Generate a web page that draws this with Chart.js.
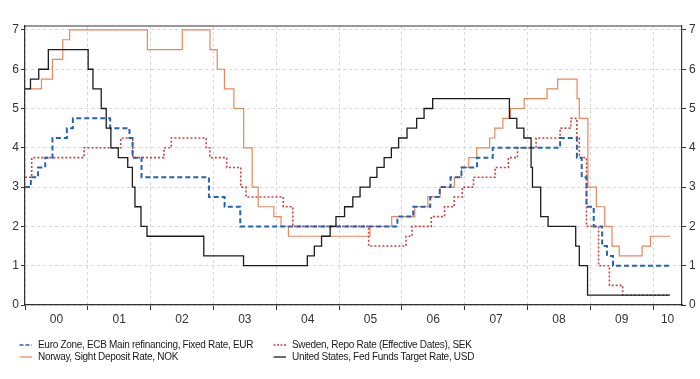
<!DOCTYPE html>
<html><head><meta charset="utf-8">
<script src="https://cdn.jsdelivr.net/npm/chart.js@4.4.1/dist/chart.umd.min.js"></script>
<style>
html,body{margin:0;padding:0;background:#fff;}
#wrap{position:relative;width:700px;height:379px;}
#legend{position:absolute;left:0;top:0;width:700px;height:379px;pointer-events:none;font-family:"Liberation Sans",Arial,sans-serif;font-size:10px;letter-spacing:-0.3px;color:#1a1a1a;}
.item{position:absolute;height:12px;line-height:12px;white-space:nowrap;}
.item svg{position:absolute;left:0;top:0;}
.item span{position:absolute;top:0;}
</style></head><body>
<div id="wrap"><canvas id="c" width="700" height="379"></canvas><div id="legend"></div></div>
<script>
// ---- data (change dates and policy rates, %) ----
const eurDates = ['2000-01-01','2000-02-04','2000-03-17','2000-04-28','2000-06-09','2000-09-01','2000-10-06','2001-05-11','2001-08-31','2001-09-18','2001-11-09','2002-12-06','2003-03-07','2003-06-06','2005-12-06','2006-03-08','2006-06-15','2006-08-09','2006-10-11','2006-12-13','2007-03-14','2007-06-13','2008-07-09','2008-10-15','2008-11-12','2008-12-10','2009-01-21','2009-03-11','2009-04-08','2009-05-13','2010-04-09'];
const eurRates = [3.00,3.25,3.50,3.75,4.25,4.50,4.75,4.50,4.25,3.75,3.25,2.75,2.50,2.00,2.25,2.50,2.75,3.00,3.25,3.50,3.75,4.00,4.25,3.75,3.25,2.50,2.00,1.50,1.25,1.00,1.00];

const sekDates = ['2000-01-01','2000-02-09','2000-12-10','2001-07-11','2001-09-19','2002-03-20','2002-05-01','2002-11-20','2002-12-11','2003-03-19','2003-06-09','2003-07-09','2004-02-11','2004-04-07','2005-06-22','2006-01-25','2006-03-01','2006-06-21','2006-09-06','2006-11-01','2006-12-18','2007-02-21','2007-06-27','2007-09-12','2007-11-04','2008-02-20','2008-07-09','2008-09-10','2008-10-15','2008-10-29','2008-12-10','2009-02-18','2009-04-22','2009-07-08','2010-04-09'];
const sekRates = [3.25,3.75,4.00,4.25,3.75,4.00,4.25,4.00,3.75,3.50,3.00,2.75,2.50,2.00,1.50,1.75,2.00,2.25,2.50,2.75,3.00,3.25,3.50,3.75,4.00,4.25,4.50,4.75,4.25,3.75,2.00,1.00,0.50,0.25,0.25];

const nokDates = ['2000-01-01','2000-04-06','2000-06-09','2000-08-08','2000-09-17','2001-12-13','2002-07-04','2002-12-12','2003-01-23','2003-03-06','2003-04-30','2003-06-26','2003-08-14','2003-09-18','2003-12-18','2004-01-29','2004-03-12','2005-06-30','2005-11-03','2006-03-17','2006-06-01','2006-08-11','2006-11-02','2006-12-14','2007-01-25','2007-03-12','2007-05-26','2007-06-25','2007-08-11','2007-09-24','2007-12-13','2008-04-24','2008-06-25','2008-10-16','2008-10-29','2008-12-18','2009-02-05','2009-03-26','2009-05-07','2009-06-18','2009-10-29','2009-12-17','2010-04-09'];
const nokRates = [5.50,5.75,6.25,6.75,7.00,6.50,7.00,6.50,6.00,5.50,5.00,4.00,3.00,2.50,2.25,2.00,1.75,2.00,2.25,2.50,2.75,3.00,3.25,3.50,3.75,4.00,4.25,4.50,4.75,5.00,5.25,5.50,5.75,5.25,4.75,3.00,2.50,2.00,1.50,1.25,1.50,1.75,1.75];

const usdDates = ['2000-01-01','2000-02-02','2000-03-21','2000-05-16','2001-01-03','2001-01-31','2001-03-20','2001-04-18','2001-05-15','2001-06-27','2001-08-21','2001-09-17','2001-10-02','2001-11-06','2001-12-11','2002-11-06','2003-06-25','2004-06-30','2004-08-10','2004-09-21','2004-11-10','2004-12-14','2005-02-02','2005-03-22','2005-05-03','2005-06-30','2005-08-09','2005-09-20','2005-11-01','2005-12-13','2006-01-31','2006-03-28','2006-05-10','2006-06-29','2007-09-18','2007-10-31','2007-12-11','2008-01-22','2008-01-30','2008-03-18','2008-04-30','2008-10-08','2008-10-29','2008-12-16','2010-04-09'];
const usdRates = [5.50,5.75,6.00,6.50,6.00,5.50,5.00,4.50,4.00,3.75,3.50,3.00,2.50,2.00,1.75,1.25,1.00,1.25,1.50,1.75,2.00,2.25,2.50,2.75,3.00,3.25,3.50,3.75,4.00,4.25,4.50,4.75,5.00,5.25,4.75,4.50,4.25,3.50,3.00,2.25,2.00,1.50,1.00,0.25,0.25];

const seriesNames = ['Euro Zone, ECB Main refinancing, Fixed Rate, EUR','Sweden, Repo Rate (Effective Dates), SEK','Norway, Sight Deposit Rate, NOK','United States, Fed Funds Target Rate, USD'];
const yearTicks = [2000,2001,2002,2003,2004,2005,2006,2007,2008,2009,2010];
const yearLabelPos = [2000.5,2001.5,2002.5,2003.5,2004.5,2005.5,2006.5,2007.5,2008.5,2009.5,2010.23];
const yearLabels = ['00','01','02','03','04','05','06','07','08','09','10'];
const yTicks = [0,1,2,3,4,5,6,7];
const xMin = 2000, xMax = 2010.46, yMin = 0, yMax = 7.1;

function toYear(s){
  const p = s.split('-').map(Number);
  const a = Date.UTC(p[0],0,1), b = Date.UTC(p[0]+1,0,1);
  return p[0] + (Date.UTC(p[0],p[1]-1,p[2]) - a)/(b - a);
}
function pts(d, v){ return d.map((s,i)=>({x: toYear(s), y: v[i]})); }

const colors = {eur:'#2563b4', sek:'#d2403f', nok:'#e8875c', usd:'#1c1c1c'};
const AX = '#333333', GRID = '#d6d6d6';

const labelMap = new Map(yearLabelPos.map((p,i)=>[p, yearLabels[i]]));
const isYear = v => yearTicks.includes(v);

const framePlugin = {
  id:'frame',
  afterDraw(chart){
    const {ctx, chartArea:a} = chart;
    ctx.save();
    ctx.strokeStyle = AX; ctx.lineWidth = 1.2;
    ctx.beginPath(); ctx.moveTo(a.left, a.top); ctx.lineTo(a.right, a.top); ctx.stroke();
    ctx.restore();
  }
};

const chart = new Chart(document.getElementById('c'), {
  type:'line',
  data:{ datasets:[
    {label:seriesNames[0], data:pts(eurDates,eurRates), borderColor:colors.eur, borderWidth:2, borderDash:[5,3], order:1},
    {label:seriesNames[1], data:pts(sekDates,sekRates), borderColor:colors.sek, borderWidth:1.6, borderDash:[2,2], order:2},
    {label:seriesNames[2], data:pts(nokDates,nokRates), borderColor:colors.nok, borderWidth:1.2, order:3},
    {label:seriesNames[3], data:pts(usdDates,usdRates), borderColor:colors.usd, borderWidth:1.3, order:0}
  ].map(d=>Object.assign({stepped:true, pointRadius:0, fill:false, tension:0, yAxisID:'y'}, d)) },
  options:{
    responsive:false, animation:false, events:[],
    layout:{padding:{top:26,left:0,right:0,bottom:48}},
    plugins:{legend:{display:false}, tooltip:{enabled:false}},
    scales:{
      x:{type:'linear', position:'bottom', min:xMin, max:xMax,
        afterBuildTicks: s => { s.ticks = yearTicks.concat(yearLabelPos).sort((a,b)=>a-b).map(v=>({value:v})); },
        afterFit: s => { s.height = 26; },
        grid:{ color: c => isYear(c.tick.value) ? GRID : 'rgba(0,0,0,0)', tickColor: c => isYear(c.tick.value) ? AX : 'rgba(0,0,0,0)', tickLength:5, lineWidth:1 },
        border:{display:true, color:AX, width:1.2, dash:[3,3]},
        ticks:{autoSkip:false, maxRotation:0, padding:2, color:'#333', font:{family:'"Liberation Sans", Arial, sans-serif', size:12},
          callback: v => labelMap.has(v) ? labelMap.get(v) : ''}
      },
      y:{type:'linear', position:'left', min:yMin, max:yMax,
        afterBuildTicks: s => { s.ticks = yTicks.map(v=>({value:v})); },
        afterFit: s => { s.width = 25; },
        grid:{color:GRID, tickColor:AX, tickLength:4, lineWidth:1},
        border:{display:true, color:AX, width:1.2, dash:[3,3]},
        ticks:{padding:2, color:'#333', font:{family:'"Liberation Sans", Arial, sans-serif', size:12}}
      },
      y2:{type:'linear', position:'right', display:true, min:yMin, max:yMax,
        afterBuildTicks: s => { s.ticks = yTicks.map(v=>({value:v})); },
        afterFit: s => { s.width = 18; },
        grid:{drawOnChartArea:false, tickColor:AX, tickLength:4},
        border:{display:true, color:AX, width:1.2},
        ticks:{padding:3, color:'#333', font:{family:'"Liberation Sans", Arial, sans-serif', size:12}}
      }
    }
  },
  plugins:[framePlugin]
});

// ---- HTML legend built from the chart datasets ----
const legendPos = [[19,339],[273,339],[19,351],[273,351]];
const legendEl = document.getElementById('legend');
chart.data.datasets.forEach((ds,i)=>{
  const [lx,ly] = legendPos[i];
  const it = document.createElement('div');
  it.className = 'item';
  it.style.left = lx+'px'; it.style.top = ly+'px';
  const dash = ds.borderDash ? ds.borderDash.join(',') : 'none';
  it.innerHTML = '<svg width="14" height="12"><line x1="0.5" y1="6" x2="13" y2="6" stroke="'+ds.borderColor+'" stroke-width="'+Math.min(ds.borderWidth,1.6)+'" stroke-dasharray="'+(ds.borderDash? (i===0?'4,2':'2,1.5') : 'none')+'"/></svg><span style="left:19px">'+ds.label+'</span>';
  legendEl.appendChild(it);
});
</script>
</body></html>
